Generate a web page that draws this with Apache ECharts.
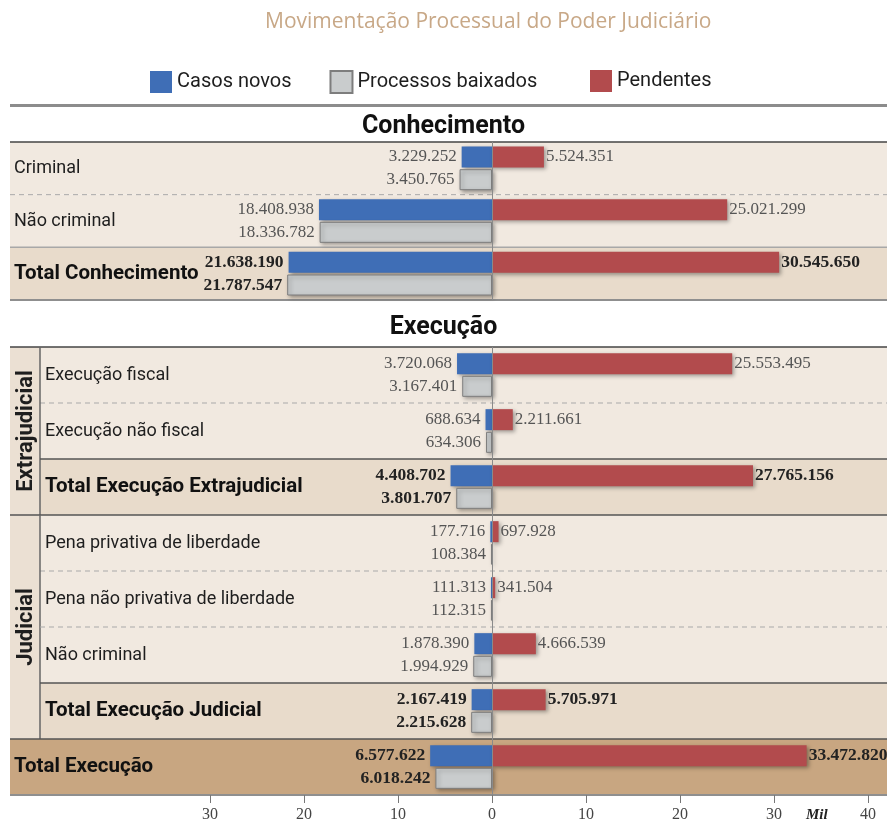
<!DOCTYPE html>
<html>
<head>
<meta charset="utf-8">
<title>Movimentação Processual do Poder Judiciário</title>
<script src="https://cdn.jsdelivr.net/npm/echarts@6/dist/echarts.min.js"></script>
<style>
  html, body { margin: 0; padding: 0; background: #fff; }
  #chart { width: 887px; height: 825px; }
</style>
</head>
<body>
<div id="chart"></div>
<script>
// dados (valores absolutos)
const catConhecimento = ["Criminal", "Não criminal", "Total Conhecimento"];
const casosConhecimento = [3229252, 18408938, 21638190];
const baixadosConhecimento = [3450765, 18336782, 21787547];
const pendentesConhecimento = [5524351, 25021299, 30545650];
const tiposConhecimento = ["item", "item", "total"];

const catExecucao = [
  "Execução fiscal",
  "Execução não fiscal",
  "Total Execução Extrajudicial",
  "Pena privativa de liberdade",
  "Pena não privativa de liberdade",
  "Não criminal",
  "Total Execução Judicial",
  "Total Execução",
];
const casosExecucao = [3720068, 688634, 4408702, 177716, 111313, 1878390, 2167419, 6577622];
const baixadosExecucao = [3167401, 634306, 3801707, 108384, 112315, 1994929, 2215628, 6018242];
const pendentesExecucao = [25553495, 2211661, 27765156, 697928, 341504, 4666539, 5705971, 33472820];
const tiposExecucao = ["item", "item", "total", "item", "item", "item", "total", "geral"];
const gruposExecucao = [
  { nome: "Extrajudicial", de: 0, ate: 2 },
  { nome: "Judicial", de: 3, ate: 6 },
];

const legendaSeries = ["Casos novos", "Processos baixados", "Pendentes"];
const xMin = -30000000;
const xMax = 40000000;
const xPasso = 10000000;

// estilos
const SANS = "Roboto, sans-serif";
const SERIF = '"Liberation Serif", "DejaVu Serif", serif';
const AZUL = "#3f6eb6";
const CINZA = "#c9cccd";
const VERMELHO = "#b24b4d";
const COR_FAIXA = { item: "#f1e9e0", total: "#e8dbcb", geral: "#c8a681" };
const COR_GRUPO = "#ebe0d3";
const linhasConhecimento = ["tracejada", "clara", "media"];
const linhasExecucao = ["tracejada", "escura", "escura", "tracejada", "tracejada", "escura", "escura", "media"];
const ESTILO_LINHA = {
  tracejada: { stroke: "#a9a9a9", lineWidth: 1, lineDash: [5, 4] },
  clara: { stroke: "#a8a8a8", lineWidth: 1.5 },
  media: { stroke: "#8f8f8f", lineWidth: 2 },
  escura: { stroke: "#555", lineWidth: 1.5 },
};
const MARGEM = 10;
const COL_GRUPO = 40;

function milhar(n) {
  return String(Math.abs(n)).replace(/\B(?=(\d{3})+(?!\d))/g, ".");
}

function faixas(tipos, linhas, grupos) {
  return function (params, api) {
    const i = api.value(1);
    const c = api.coord([0, i]);
    const h = api.size([0, 1])[1];
    const top = c[1] - h / 2;
    const W = api.getWidth();
    const g = grupos.find((gr) => i >= gr.de && i <= gr.ate);
    const x0 = g ? COL_GRUPO : MARGEM;
    const filhos = [
      {
        type: "rect",
        z2: 0,
        shape: { x: x0, y: top, width: W - x0, height: h },
        style: { fill: COR_FAIXA[tipos[i]] },
      },
    ];
    const xl = g && i < g.ate ? COL_GRUPO : MARGEM;
    filhos.push({
      type: "line",
      z2: 10,
      shape: { x1: xl, y1: top + h, x2: W, y2: top + h },
      style: ESTILO_LINHA[linhas[i]],
    });
    if (i === 0) {
      filhos.push({
        type: "line",
        z2: 10,
        shape: { x1: MARGEM, y1: top, x2: W, y2: top },
        style: { stroke: "#444", lineWidth: 1.5 },
      });
    }
    if (g && i === g.de) {
      const hg = h * (g.ate - g.de + 1);
      filhos.push(
        {
          type: "rect",
          z2: 1,
          shape: { x: MARGEM, y: top, width: COL_GRUPO - MARGEM, height: hg },
          style: { fill: COR_GRUPO },
        },
        {
          type: "line",
          z2: 10,
          shape: { x1: COL_GRUPO, y1: top, x2: COL_GRUPO, y2: top + hg },
          style: { stroke: "#666", lineWidth: 1.5 },
        },
        {
          type: "text",
          z2: 11,
          x: (MARGEM + COL_GRUPO) / 2 + 1,
          y: top + hg / 2,
          rotation: Math.PI / 2,
          style: {
            text: g.nome,
            font: "bold 22px " + SANS,
            fill: "#1e1e1e",
            align: "center",
            verticalAlign: "middle",
          },
        }
      );
    }
    return { type: "group", children: filhos };
  };
}

function dadosBarras(valores, tipos, sinal) {
  return valores.map((v, i) => ({
    value: sinal * v,
    label: tipos[i] === "item" ? {} : { fontWeight: "bold", color: "#222", fontSize: 17.5 },
  }));
}

function rotuloLinha(tipos, grupos) {
  return function (nome, i) {
    const recuo = grupos.some((g) => i >= g.de && i <= g.ate) ? "Ind" : "";
    const estilo = tipos[i] === "item" ? "item" : "total";
    return "{" + estilo + recuo + "|" + nome + "}";
  };
}

const richLinhas = {
  item: { fontFamily: SANS, fontSize: 18, color: "#1e1e1e" },
  itemInd: { fontFamily: SANS, fontSize: 18, color: "#1e1e1e", padding: [0, 0, 0, 31] },
  total: { fontFamily: SANS, fontSize: 20.5, fontWeight: "bold", color: "#111" },
  totalInd: { fontFamily: SANS, fontSize: 20.5, fontWeight: "bold", color: "#111", padding: [0, 0, 0, 31] },
};

const sombra = {
  shadowBlur: 4,
  shadowColor: "rgba(0,0,0,0.35)",
  shadowOffsetX: 2,
  shadowOffsetY: 2,
};

function seriesGrade(idx, tipos, linhas, grupos, casos, baixados, pendentes) {
  const rotulo = { show: true, fontFamily: SERIF, fontSize: 17, color: "#555" };
  return [
    {
      type: "custom",
      xAxisIndex: idx,
      yAxisIndex: idx,
      silent: true,
      clip: false,
      z: 1,
      renderItem: faixas(tipos, linhas, grupos),
      data: tipos.map((t, i) => [0, i]),
    },
    {
      name: legendaSeries[0],
      type: "bar",
      xAxisIndex: idx,
      yAxisIndex: idx,
      stack: "sup" + idx,
      barWidth: 21,
      barGap: "8%",
      z: 3,
      itemStyle: Object.assign({ color: AZUL }, sombra),
      label: Object.assign({ position: "left", distance: 5, formatter: (p) => milhar(p.value) }, rotulo),
      data: dadosBarras(casos, tipos, -1),
      markLine: {
        silent: true,
        symbol: ["none", "none"],
        label: { show: false },
        lineStyle: { color: "#8a8a8a", width: 1, type: "solid" },
        data: [{ xAxis: 0 }],
      },
    },
    {
      name: legendaSeries[1],
      type: "bar",
      xAxisIndex: idx,
      yAxisIndex: idx,
      stack: "inf" + idx,
      barWidth: 21,
      barGap: "8%",
      z: 3,
      itemStyle: Object.assign({ color: CINZA, borderColor: "#7d7d7d", borderWidth: 1 }, sombra),
      label: Object.assign({ position: "left", distance: 5, formatter: (p) => milhar(p.value) }, rotulo),
      data: dadosBarras(baixados, tipos, -1),
    },
    {
      name: legendaSeries[2],
      type: "bar",
      xAxisIndex: idx,
      yAxisIndex: idx,
      stack: "sup" + idx,
      barWidth: 21,
      barGap: "8%",
      z: 3,
      itemStyle: Object.assign({ color: VERMELHO }, sombra),
      label: Object.assign({ position: "right", distance: 2, formatter: (p) => milhar(p.value) }, rotulo),
      data: dadosBarras(pendentes, tipos, 1),
    },
  ];
}

function eixoY(idx, categorias, tipos, grupos) {
  return {
    gridIndex: idx,
    type: "category",
    data: categorias,
    inverse: true,
    z: 5,
    axisLine: { show: false },
    axisTick: { show: false },
    axisLabel: {
      margin: 196,
      align: "left",
      formatter: rotuloLinha(tipos, grupos),
      rich: richLinhas,
    },
  };
}

const legendaBase = {
  top: 65,
  icon: "rect",
  itemWidth: 22,
  itemHeight: 22,
  itemGap: 38,
  textStyle: { fontFamily: SANS, fontSize: 20, color: "#1e1e1e" },
};

const chart = echarts.init(document.getElementById("chart"));
chart.setOption({
  animation: false,
  backgroundColor: "#fff",
  title: [
    {
      text: "Movimentação Processual do Poder Judiciário",
      left: 260,
      top: 7,
      textStyle: { fontFamily: '"Open Sans", sans-serif', fontSize: 21, fontWeight: "normal", color: "#c8a887" },
    },
    {
      text: "Conhecimento",
      left: "center",
      top: 109,
      textStyle: { fontFamily: SANS, fontSize: 25, fontWeight: "bold", color: "#111" },
    },
    {
      text: "Execução",
      left: "center",
      top: 310,
      textStyle: { fontFamily: SANS, fontSize: 25, fontWeight: "bold", color: "#111" },
    },
  ],
  legend: [
    Object.assign({ data: legendaSeries.slice(0, 2), left: 145 }, legendaBase),
    Object.assign({ data: legendaSeries.slice(2), left: 585 }, legendaBase),
  ],
  graphic: [
    { type: "rect", shape: { x: MARGEM, y: 104, width: 887 - MARGEM, height: 3 }, style: { fill: "#8c8c8c" } },
    {
      type: "text",
      x: 806,
      y: 808,
      style: { text: "Mil", font: "italic bold 15px " + SERIF, fill: "#222" },
    },
  ],
  grid: [
    { left: 210, right: 19, top: 142, height: 158 },
    { left: 210, right: 19, top: 347, height: 448 },
  ],
  xAxis: [
    { gridIndex: 0, type: "value", min: xMin, max: xMax, interval: xPasso, show: false },
    {
      gridIndex: 1,
      type: "value",
      min: xMin,
      max: xMax,
      interval: xPasso,
      z: 5,
      axisLine: { show: false },
      axisTick: { show: true, length: 8, lineStyle: { color: "#777" } },
      splitLine: { show: false },
      axisLabel: {
        margin: 12,
        fontFamily: SERIF,
        fontSize: 16,
        color: "#444",
        formatter: (v) => String(Math.abs(v / 1000000)),
      },
    },
  ],
  yAxis: [
    eixoY(0, catConhecimento, tiposConhecimento, []),
    eixoY(1, catExecucao, tiposExecucao, gruposExecucao),
  ],
  series: [].concat(
    seriesGrade(0, tiposConhecimento, linhasConhecimento, [], casosConhecimento, baixadosConhecimento, pendentesConhecimento),
    seriesGrade(1, tiposExecucao, linhasExecucao, gruposExecucao, casosExecucao, baixadosExecucao, pendentesExecucao)
  ),
});
</script>
</body>
</html>
